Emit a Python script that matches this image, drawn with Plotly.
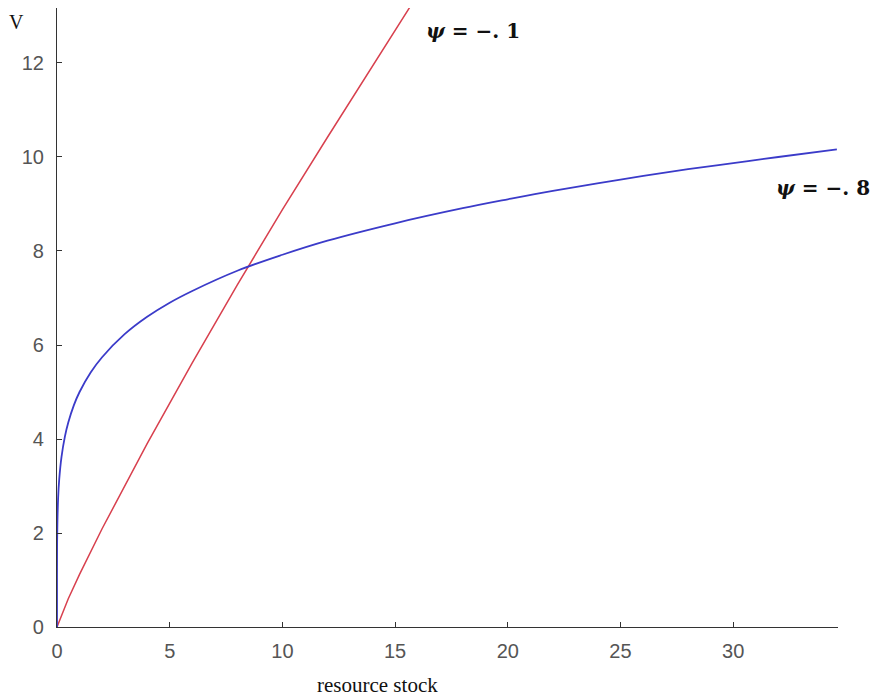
import plotly.graph_objects as go

# values
red_x = [0, 0.5, 1, 2, 4, 6, 8, 10, 12, 14, 16]
red_v = [0, 0.60, 1.12, 2.09, 3.90, 5.62, 7.28, 8.88, 10.42, 11.95, 13.45]

blue_x = [0, 0.0001, 0.001, 0.01, 0.05, 0.1, 0.2, 0.35, 0.5, 0.75, 1, 1.5, 2, 3, 4, 5, 6, 8,
          10, 12, 15, 18, 20, 22, 25, 28, 30, 32, 34.6]
blue_v = [0, 0.79, 1.26, 1.99, 2.75, 3.15, 3.62, 4.05, 4.35, 4.72, 5.00, 5.42, 5.74, 6.23,
          6.60, 6.90, 7.15, 7.58, 7.92, 8.22, 8.59, 8.91, 9.10, 9.28, 9.52, 9.74, 9.87, 10.00, 10.16]

x_ticks = [0, 5, 10, 15, 20, 25, 30]
y_ticks = [0, 2, 4, 6, 8, 10, 12]

label_red = "<b><i>ψ</i> = −. 1</b>"
label_blue = "<b><i>ψ</i> = −. 8</b>"

fig = go.Figure()
fig.add_trace(go.Scatter(x=red_x, y=red_v, mode="lines",
                         line=dict(color="#d8404e", width=1.5), showlegend=False))
fig.add_trace(go.Scatter(x=blue_x, y=blue_v, mode="lines", line_shape="spline",
                         line=dict(color="#3b3bc9", width=1.8), showlegend=False))

fig.add_annotation(x=16.3, y=12.68, xref="x", yref="y", text=label_red, showarrow=False,
                   xanchor="left", yanchor="middle",
                   font=dict(family="DejaVu Serif", size=20, color="#111"))
fig.add_annotation(x=31.8, y=9.34, xref="x", yref="y", text=label_blue, showarrow=False,
                   xanchor="left", yanchor="middle",
                   font=dict(family="DejaVu Serif", size=20, color="#111"))

fig.add_annotation(x=-0.052, y=0.978, xref="paper", yref="paper", text="V", showarrow=False,
                   xanchor="center", yanchor="middle",
                   font=dict(family="Liberation Serif", size=20, color="#111"))
fig.add_annotation(x=0.41, y=-0.094, xref="paper", yref="paper", text="resource stock",
                   showarrow=False, xanchor="center", yanchor="middle",
                   font=dict(family="Liberation Serif", size=21, color="#111"))

axis_common = dict(showgrid=False, zeroline=False, showline=True, linecolor="#333",
                   linewidth=1.2, ticks="inside", ticklen=5, tickcolor="#333",
                   tickfont=dict(family="Liberation Sans", size=20, color="#555"))

fig.update_xaxes(range=[0, 34.65], tickvals=x_ticks, ticktext=[str(v) for v in x_ticks],
                 ticklabelstandoff=6, **axis_common)
fig.update_yaxes(range=[0, 13.17], tickvals=y_ticks, ticktext=[str(v) for v in y_ticks],
                 ticklabelstandoff=8, **axis_common)

fig.update_layout(width=870, height=690, margin=dict(l=49, r=40, t=0, b=71),
                  plot_bgcolor="white", paper_bgcolor="white")

fig.write_html("out.html")
